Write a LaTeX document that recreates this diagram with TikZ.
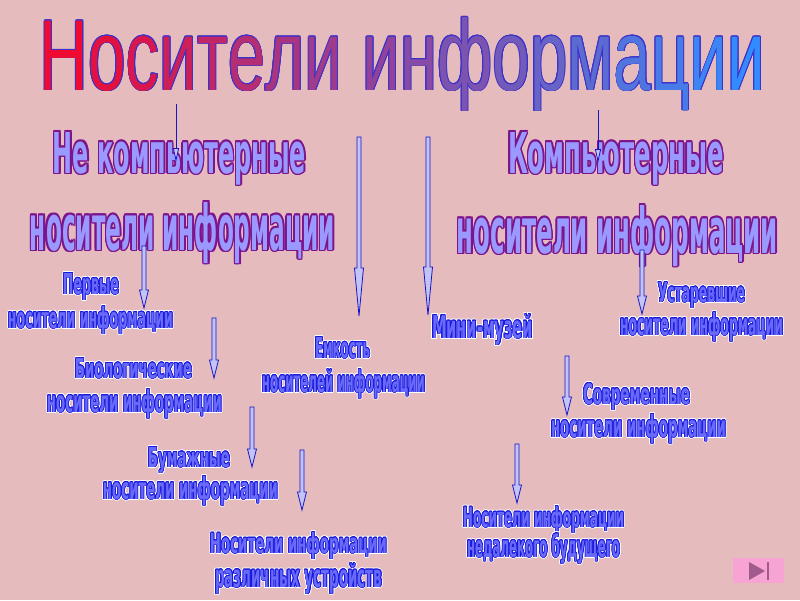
\documentclass[tikz,border=0pt]{standalone}
\usepackage{fontspec}
\usepackage{graphicx}
\usetikzlibrary{calc,arrows.meta}
\newfontfamily\ttlfont{Liberation Sans}
\newfontfamily\lblfont{DejaVu Sans}
\definecolor{bg}{RGB}{229,187,190}
\definecolor{bigfill}{RGB}{153,153,255}
\definecolor{bigout}{RGB}{125,20,140}
\definecolor{smfill}{RGB}{105,105,250}
\definecolor{smout}{RGB}{25,25,220}
\definecolor{arrline}{RGB}{20,20,200}
\definecolor{arrfill}{RGB}{195,195,245}
\definecolor{tl}{RGB}{240,10,50}
\definecolor{tm}{RGB}{140,70,160}
\definecolor{tr}{RGB}{50,140,255}
\definecolor{ttlout}{RGB}{60,50,200}
\definecolor{btnfill}{RGB}{247,163,211}
\definecolor{btnglyph}{RGB}{160,90,140}

\newlength\ora \newlength\orb
\newcommand\ring[2]{%
  \setlength\ora{#1}\setlength\orb{0.7071\ora}%
  \rlap{\color{#2}%
   \rlap{\kern\ora\copy0}\rlap{\kern-\ora\copy0}%
   \rlap{\raise\ora\copy0}\rlap{\lower\ora\copy0}%
   \rlap{\kern\orb\raise\orb\copy0}\rlap{\kern\orb\lower\orb\copy0}%
   \rlap{\kern-\orb\raise\orb\copy0}\rlap{\kern-\orb\lower\orb\copy0}}}
\newcommand\smlbl[3]{%
  \setbox0=\hbox{\resizebox{#1}{#2}{\lblfont\bfseries #3}}%
  \ring{1.7pt}{white}\ring{1.1pt}{white}%
  \ring{0.75pt}{smout}\ring{0.45pt}{smout}%
  {\color{smfill}\copy0}}
\newcommand\biglbl[3]{%
  \setbox0=\hbox{\resizebox{#1}{#2}{\lblfont\bfseries #3}}%
  \ring{1.5pt}{bigout}\ring{1.0pt}{bigout}\ring{0.5pt}{bigout}%
  {\color{bigfill}\copy0}}
\newif\iftcol
\newcommand\tc[2]{\iftcol{\color{#1}#2}\else{\color{ttlout}#2}\fi}
\newcommand\ttltext{\tc{tm!0!tl}{Н}\tc{tm!12!tl}{о}\tc{tm!24!tl}{с}\tc{tm!35!tl}{и}%
 \tc{tm!47!tl}{т}\tc{tm!59!tl}{е}\tc{tm!71!tl}{л}\tc{tm!82!tl}{и}\hspace{0.3em}%
 \tc{tm!94!tl}{и}\tc{tr!6!tm}{н}\tc{tr!18!tm}{ф}\tc{tr!29!tm}{о}\tc{tr!41!tm}{р}%
 \tc{tr!53!tm}{м}\tc{tr!65!tm}{а}\tc{tr!76!tm}{ц}\tc{tr!88!tm}{и}\tc{tr!100!tm}{и}}
\newcommand\titlelbl[2]{%
  \setbox0=\hbox{\resizebox{#1}{#2}{\tcolfalse\ttlfont\ttltext}}%
  \ring{0.9pt}{ttlout}\ring{0.5pt}{ttlout}%
  \setbox0=\hbox{\resizebox{#1}{#2}{\tcoltrue\ttlfont\ttltext}}%
  \copy0}
\newcommand\hollow[3]{%
  \filldraw[harrow] ($(#1)+(-2,0)$) -- ($(#2)+(-2,-#3)$) -- ($(#2)+(-4.5,-#3)$) -- (#2)
    -- ($(#2)+(4.5,-#3)$) -- ($(#2)+(2,-#3)$) -- ($(#1)+(2,0)$) -- cycle;}

\begin{document}
\begin{tikzpicture}[x=1pt,y=-1pt,
  lbl/.style={inner sep=0pt,outer sep=0pt,anchor=base},
  harrow/.style={draw=arrline,fill=arrfill,line width=0.8pt,line join=miter},
  thinarr/.style={draw=arrline,line width=0.8pt,-{Triangle[length=14pt,width=6pt,fill=arrfill]}},
  btn/.style={fill=btnfill,draw=none,minimum width=51pt,minimum height=25pt,inner sep=0pt}]
\useasboundingbox (0,0) rectangle (800,600);
\fill[bg] (0,0) rectangle (800,600);

% title
\node[lbl] (ttl) at (402.5,90) {\titlelbl{725pt}{73pt}};

% main headers
\node[lbl] (nc1) at (179.5,173) {\biglbl{253pt}{41pt}{Не компьютерные}};
\node[lbl] (nc2) at (182.5,250) {\biglbl{305pt}{48pt}{носители информации}};
\node[lbl] (c1) at (616,173) {\biglbl{216pt}{41pt}{Компьютерные}};
\node[lbl] (c2) at (617.5,253) {\biglbl{321pt}{48pt}{носители информации}};

% small labels
\node[lbl] (p1) at (91,294) {\smlbl{56pt}{21pt}{Первые}};
\node[lbl] (p2) at (90.5,328) {\smlbl{165pt}{22pt}{носители информации}};
\node[lbl] (b1) at (133.5,378) {\smlbl{117pt}{20pt}{Биологические}};
\node[lbl] (b2) at (134.5,412) {\smlbl{175pt}{23pt}{носители информации}};
\node[lbl] (bu1) at (189,467) {\smlbl{82pt}{20pt}{Бумажные}};
\node[lbl] (bu2) at (190.5,499) {\smlbl{175pt}{23pt}{носители информации}};
\node[lbl] (n1) at (298.5,553) {\smlbl{177pt}{21pt}{Носители информации}};
\node[lbl] (n2) at (298.5,587) {\smlbl{167pt}{24pt}{различных устройств}};
\node[lbl] (e1) at (342.5,358) {\smlbl{55pt}{21pt}{Емкость}};
\node[lbl] (e2) at (343.5,392) {\smlbl{163pt}{23pt}{носителей информации}};
\node[lbl] (m) at (482.5,338) {\smlbl{101pt}{24pt}{Мини-музей}};
\node[lbl] (u1) at (701.5,302) {\smlbl{87pt}{20pt}{Устаревшие}};
\node[lbl] (u2) at (701.5,335) {\smlbl{163pt}{23pt}{носители информации}};
\node[lbl] (s1) at (636.5,404) {\smlbl{107pt}{21pt}{Современные}};
\node[lbl] (s2) at (638.5,437) {\smlbl{175pt}{23pt}{носители информации}};
\node[lbl] (f1) at (543.5,527) {\smlbl{161pt}{21pt}{Носители информации}};
\node[lbl] (f2) at (543.5,557) {\smlbl{153pt}{24pt}{недалекого будущего}};

% arrow end points
\coordinate (aAs) at (176,104); \coordinate (aAe) at (176,162);
\coordinate (aBs) at (598,110); \coordinate (aBe) at (598,163);
\coordinate (aCs) at (359,137); \coordinate (aCe) at (359,316);
\coordinate (aDs) at (428,137); \coordinate (aDe) at (428,315);
\coordinate (aEs) at (144,246); \coordinate (aEe) at (144,308);
\coordinate (aFs) at (214,318); \coordinate (aFe) at (214,378);
\coordinate (aGs) at (252,407); \coordinate (aGe) at (252,467);
\coordinate (aHs) at (302,450); \coordinate (aHe) at (302,510);
\coordinate (aIs) at (642,250); \coordinate (aIe) at (642,314);
\coordinate (aJs) at (567,356); \coordinate (aJe) at (567,415);
\coordinate (aKs) at (517,444); \coordinate (aKe) at (517,503);

\draw[thinarr] (aAs) -- (aAe);
\draw[thinarr] (aBs) -- (aBe);
\hollow{aCs}{aCe}{48}
\hollow{aDs}{aDe}{48}
\hollow{aEs}{aEe}{18}
\hollow{aFs}{aFe}{18}
\hollow{aGs}{aGe}{18}
\hollow{aHs}{aHe}{18}
\hollow{aIs}{aIe}{18}
\hollow{aJs}{aJe}{18}
\hollow{aKs}{aKe}{18}

% navigation button
\node[btn] (next) at (758.5,570.5) {};
\fill[btnglyph] (749,562) -- (765,571) -- (749,580) -- cycle;
\fill[btnglyph] (766.5,562) rectangle (769,580);
\end{tikzpicture}
\end{document}
